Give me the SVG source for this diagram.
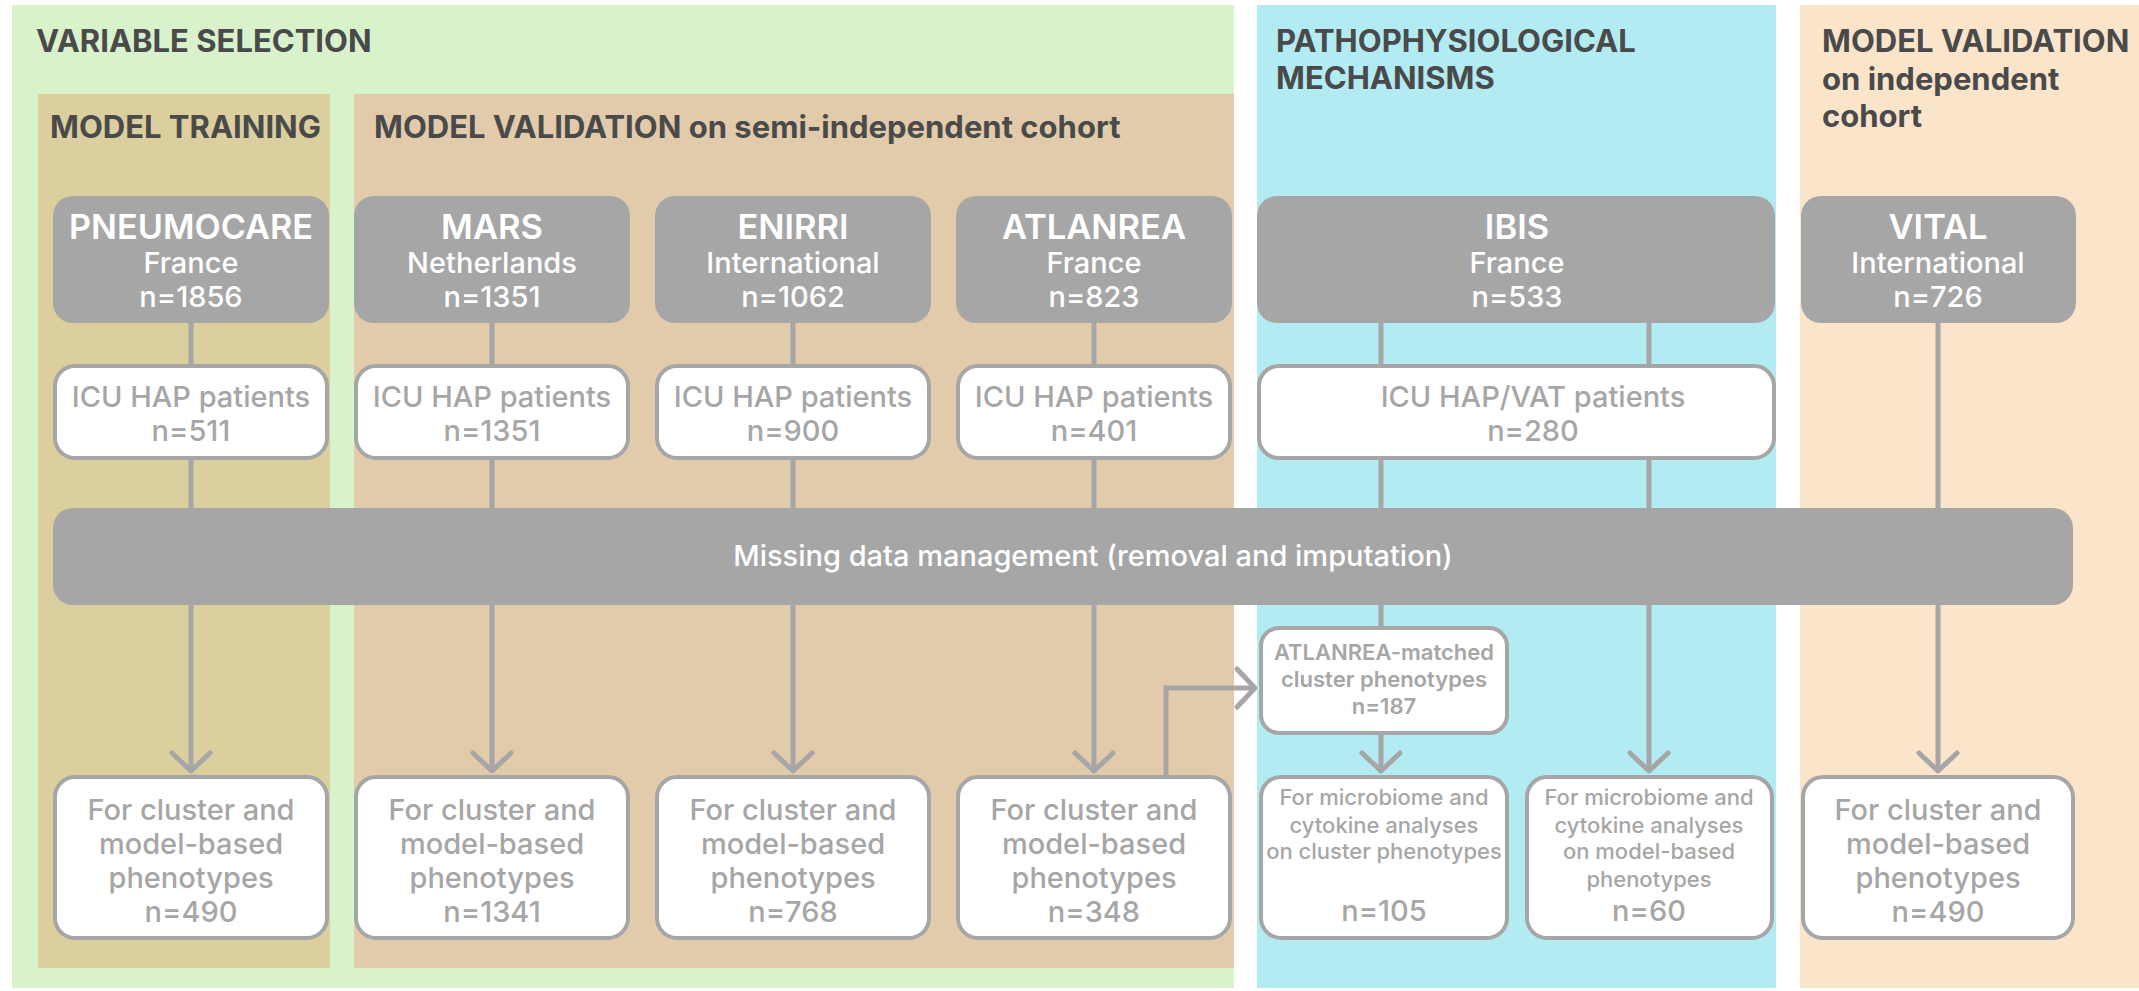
<svg xmlns="http://www.w3.org/2000/svg" width="2139" height="991" viewBox="0 0 2139 991">
<defs>
<style>
.title{font-family:Inter,"Liberation Sans",sans-serif;font-weight:700;font-size:31px;fill:#4a4a4a}
.hb{fill:#a6a6a6}
.hn{font-family:Inter,"Liberation Sans",sans-serif;font-weight:600;font-size:34.5px;fill:#ffffff;text-anchor:middle}
.hs{font-family:Inter,"Liberation Sans",sans-serif;font-weight:500;font-size:29px;fill:#ffffff;text-anchor:middle}
.wb{fill:#ffffff;stroke:#a6a6a6;stroke-width:4}
.wt{font-family:Inter,"Liberation Sans",sans-serif;font-weight:500;font-size:29px;fill:#a6a6a6;text-anchor:middle}
.ws{font-family:Inter,"Liberation Sans",sans-serif;font-weight:500;font-size:22px;fill:#a6a6a6;text-anchor:middle}
.wm{font-family:Inter,"Liberation Sans",sans-serif;font-weight:600;font-size:22px;fill:#a6a6a6;text-anchor:middle}
.conn{fill:none;stroke:#a6a6a6;stroke-width:5}
.arr{fill:none;stroke:#a6a6a6;stroke-width:5;stroke-linecap:round;stroke-linejoin:round}
</style>
<marker id="chev" markerUnits="userSpaceOnUse" markerWidth="40" markerHeight="40" refX="0" refY="0" orient="auto" overflow="visible">
<path class="arr" d="M-18,-19 L0,0 L-18,19"/>
</marker>
</defs>

<g id="panels">
<rect x="12" y="5" width="1222" height="983" fill="#d8f2cc"/>
<rect x="38" y="94" width="292" height="874" fill="#dbcf9e"/>
<rect x="354" y="94" width="880" height="874" fill="#e2cbab"/>
<rect x="1257" y="5" width="519" height="983" fill="#b3ebf3"/>
<rect x="1800" y="5" width="339" height="983" fill="#fae5cb"/>
<text class="title" x="36" y="52">VARIABLE SELECTION</text>
<text class="title" x="50" y="138">MODEL TRAINING</text>
<text class="title" x="374" y="138">MODEL VALIDATION on semi-independent cohort</text>
<text class="title" x="1276" y="52">PATHOPHYSIOLOGICAL</text>
<text class="title" x="1276" y="89">MECHANISMS</text>
<text class="title" x="1822" y="52">MODEL VALIDATION</text>
<text class="title" x="1822" y="90">on independent</text>
<text class="title" x="1822" y="127">cohort</text>
</g>

<g id="connectors">
<line class="conn" x1="191" y1="320" x2="191" y2="771" marker-end="url(#chev)"/>
<line class="conn" x1="492" y1="320" x2="492" y2="771" marker-end="url(#chev)"/>
<line class="conn" x1="793" y1="320" x2="793" y2="771" marker-end="url(#chev)"/>
<line class="conn" x1="1094" y1="320" x2="1094" y2="771" marker-end="url(#chev)"/>
<line class="conn" x1="1381" y1="320" x2="1381" y2="628"/>
<line class="conn" x1="1381" y1="733" x2="1381" y2="771" marker-end="url(#chev)"/>
<line class="conn" x1="1649" y1="320" x2="1649" y2="771" marker-end="url(#chev)"/>
<line class="conn" x1="1938" y1="320" x2="1938" y2="771" marker-end="url(#chev)"/>
<path class="conn" d="M1166,777 L1166,688 L1255,688" marker-end="url(#chev)"/>
</g>

<g id="missing-data">
<rect class="hb" x="53" y="508" width="2020" height="97" rx="20"/>
<text class="hs" x="1093" y="566">Missing data management (removal and imputation)</text>
</g>

<g id="pneumocare">
<rect class="hb" x="53" y="196" width="276" height="127" rx="20"/>
<text class="hn" x="191" y="239" textLength="244" lengthAdjust="spacingAndGlyphs">PNEUMOCARE</text>
<text class="hs" x="191" y="273">France</text>
<text class="hs" x="191" y="307">n=1856</text>
</g>
<g id="mars">
<rect class="hb" x="354" y="196" width="276" height="127" rx="20"/>
<text class="hn" x="492" y="239">MARS</text>
<text class="hs" x="492" y="273">Netherlands</text>
<text class="hs" x="492" y="307">n=1351</text>
</g>
<g id="enirri">
<rect class="hb" x="655" y="196" width="276" height="127" rx="20"/>
<text class="hn" x="793" y="239">ENIRRI</text>
<text class="hs" x="793" y="273">International</text>
<text class="hs" x="793" y="307">n=1062</text>
</g>
<g id="atlanrea">
<rect class="hb" x="956" y="196" width="276" height="127" rx="20"/>
<text class="hn" x="1094" y="239">ATLANREA</text>
<text class="hs" x="1094" y="273">France</text>
<text class="hs" x="1094" y="307">n=823</text>
</g>
<g id="ibis">
<rect class="hb" x="1257" y="196" width="518" height="127" rx="20"/>
<text class="hn" x="1517" y="239">IBIS</text>
<text class="hs" x="1517" y="273">France</text>
<text class="hs" x="1517" y="307">n=533</text>
</g>
<g id="vital">
<rect class="hb" x="1801" y="196" width="275" height="127" rx="20"/>
<text class="hn" x="1938" y="239">VITAL</text>
<text class="hs" x="1938" y="273">International</text>
<text class="hs" x="1938" y="307">n=726</text>
</g>

<g id="pneumocare-icu">
<rect class="wb" x="55" y="366" width="272" height="92" rx="20"/>
<text class="wt" x="191" y="407">ICU HAP patients</text>
<text class="wt" x="191" y="441">n=511</text>
</g>
<g id="mars-icu">
<rect class="wb" x="356" y="366" width="272" height="92" rx="20"/>
<text class="wt" x="492" y="407">ICU HAP patients</text>
<text class="wt" x="492" y="441">n=1351</text>
</g>
<g id="enirri-icu">
<rect class="wb" x="657" y="366" width="272" height="92" rx="20"/>
<text class="wt" x="793" y="407">ICU HAP patients</text>
<text class="wt" x="793" y="441">n=900</text>
</g>
<g id="atlanrea-icu">
<rect class="wb" x="958" y="366" width="272" height="92" rx="20"/>
<text class="wt" x="1094" y="407">ICU HAP patients</text>
<text class="wt" x="1094" y="441">n=401</text>
</g>
<g id="ibis-icu">
<rect class="wb" x="1259" y="366" width="515" height="92" rx="20"/>
<text class="wt" x="1533" y="407">ICU HAP/VAT patients</text>
<text class="wt" x="1533" y="441">n=280</text>
</g>

<g id="atlanrea-matched">
<rect class="wb" x="1261" y="628" width="246" height="105" rx="18"/>
<text class="wm" x="1384" y="660">ATLANREA-matched</text>
<text class="wm" x="1384" y="687">cluster phenotypes</text>
<text class="wm" x="1384" y="714">n=187</text>
</g>

<g id="pneumocare-out">
<rect class="wb" x="55" y="777" width="272" height="161" rx="20"/>
<text class="wt" x="191" y="820">For cluster and</text>
<text class="wt" x="191" y="854">model-based</text>
<text class="wt" x="191" y="888">phenotypes</text>
<text class="wt" x="191" y="922">n=490</text>
</g>
<g id="mars-out">
<rect class="wb" x="356" y="777" width="272" height="161" rx="20"/>
<text class="wt" x="492" y="820">For cluster and</text>
<text class="wt" x="492" y="854">model-based</text>
<text class="wt" x="492" y="888">phenotypes</text>
<text class="wt" x="492" y="922">n=1341</text>
</g>
<g id="enirri-out">
<rect class="wb" x="657" y="777" width="272" height="161" rx="20"/>
<text class="wt" x="793" y="820">For cluster and</text>
<text class="wt" x="793" y="854">model-based</text>
<text class="wt" x="793" y="888">phenotypes</text>
<text class="wt" x="793" y="922">n=768</text>
</g>
<g id="atlanrea-out">
<rect class="wb" x="958" y="777" width="272" height="161" rx="20"/>
<text class="wt" x="1094" y="820">For cluster and</text>
<text class="wt" x="1094" y="854">model-based</text>
<text class="wt" x="1094" y="888">phenotypes</text>
<text class="wt" x="1094" y="922">n=348</text>
</g>
<g id="ibis-cluster-out">
<rect class="wb" x="1261" y="777" width="246" height="161" rx="20"/>
<text class="ws" x="1384" y="805">For microbiome and</text>
<text class="ws" x="1384" y="833">cytokine analyses</text>
<text class="ws" x="1384" y="859">on cluster phenotypes</text>
<text class="wt" x="1384" y="921">n=105</text>
</g>
<g id="ibis-model-out">
<rect class="wb" x="1527" y="777" width="245" height="161" rx="20"/>
<text class="ws" x="1649" y="805">For microbiome and</text>
<text class="ws" x="1649" y="833">cytokine analyses</text>
<text class="ws" x="1649" y="859">on model-based</text>
<text class="ws" x="1649" y="887">phenotypes</text>
<text class="wt" x="1649" y="921">n=60</text>
</g>
<g id="vital-out">
<rect class="wb" x="1803" y="777" width="270" height="161" rx="20"/>
<text class="wt" x="1938" y="820">For cluster and</text>
<text class="wt" x="1938" y="854">model-based</text>
<text class="wt" x="1938" y="888">phenotypes</text>
<text class="wt" x="1938" y="922">n=490</text>
</g>
</svg>
